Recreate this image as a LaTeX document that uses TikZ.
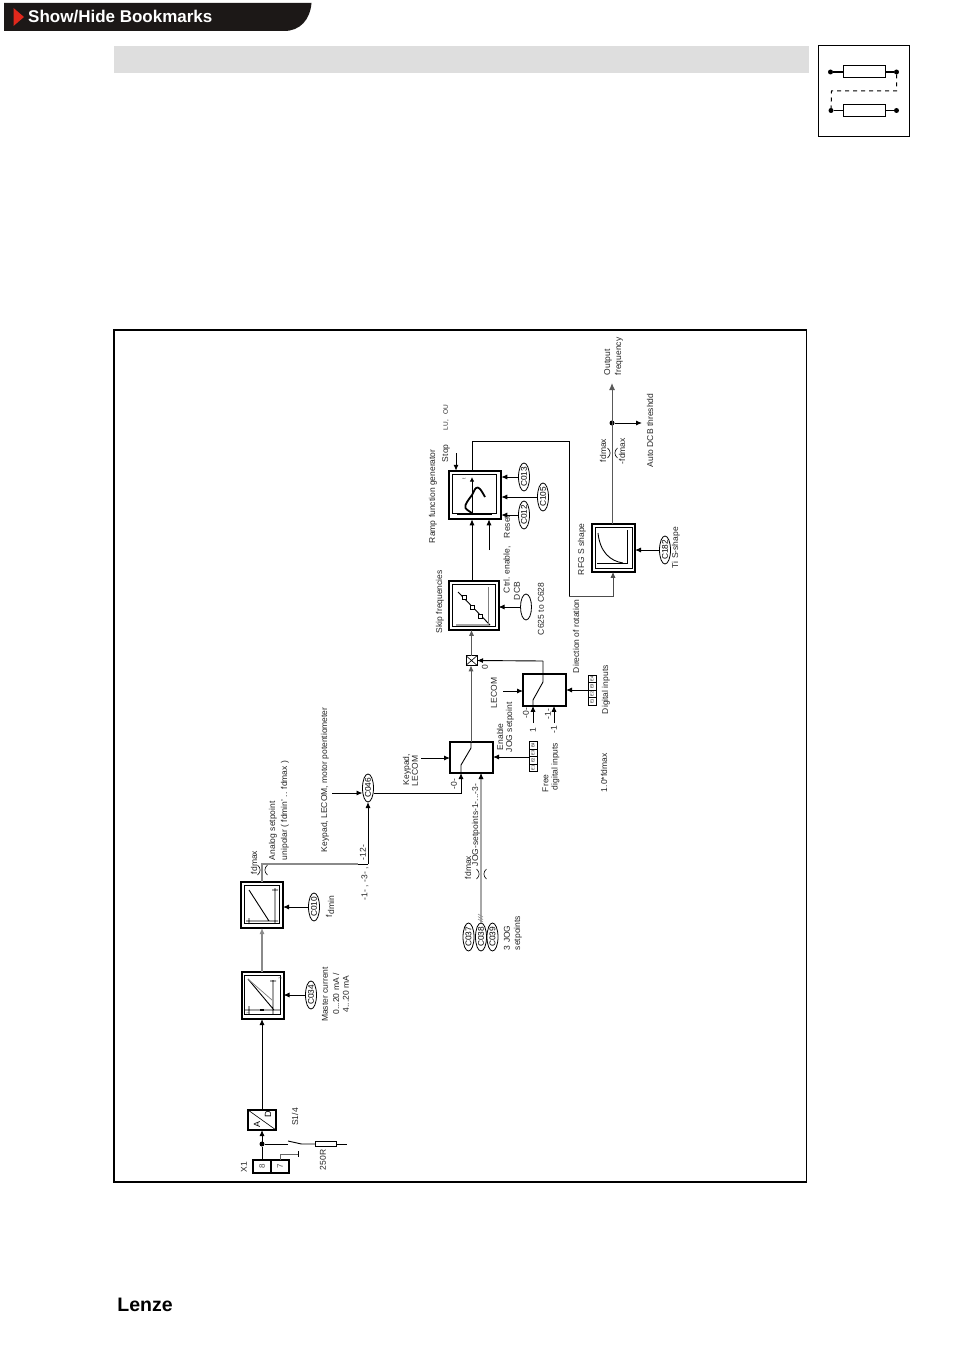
\documentclass[tikz,border=0pt]{standalone}
\usepackage{fontspec}
\setmainfont{Liberation Sans}
\usetikzlibrary{arrows.meta,shapes.geometric}
\definecolor{hdr}{HTML}{1C1817}
\definecolor{bandgr}{HTML}{DEDEDE}
\definecolor{redmk}{HTML}{E0281C}
\definecolor{linegr}{HTML}{8A8A8A}
\definecolor{jogline}{HTML}{A8A8A8}
\newcommand{\brk}[2]{%
 \draw[thin line] (#1-4.5,#2-5) .. controls (#1-1,#2-2) and (#1-1,#2+2) .. (#1-4.5,#2+5);
 \draw[thin line] (#1+5.5,#2-5) .. controls (#1+2,#2-2) and (#1+2,#2+2) .. (#1+5.5,#2+5);}
\tikzset{
 thin line/.style={line width=0.6pt,black},
 wire/.style={line width=0.9pt,black},
 gwire/.style={line width=1.1pt,linegr},
 arr/.style={wire,-{Latex[length=6pt,width=5pt]}},
 garr/.style={gwire,-{Latex[length=6pt,width=5pt]}},
 blockbox/.style={draw,line width=2pt,rectangle,inner sep=0,outer sep=0,fill=white},
 innerbox/.style={line width=0.8pt,black},
 swbox/.style={draw,line width=1.8pt,rectangle,inner sep=0,outer sep=0,fill=white},
 thinbox/.style={draw,line width=1pt,rectangle,inner sep=0,outer sep=0,fill=white},
 dotn/.style={circle,fill=black,inner sep=0,minimum size=5pt,outer sep=0},
 ecl/.style={draw,ellipse,rotate=90,minimum width=26pt,minimum height=11pt,inner sep=0,outer sep=0,line width=0.8pt,font=\fontsize{8.3}{8.3}\selectfont,fill=white},
 txt/.style={rotate=90,anchor=west,inner sep=0,outer sep=0,font=\fontsize{8.5}{8.5}\selectfont,text=black!85},
 ctr/.style={txt,anchor=center},
 tiny/.style={rotate=90,anchor=center,inner sep=0,font=\fontsize{4}{4}\selectfont,text=black!70},
 ins/.style={line width=0.9pt,black},
 strip/.style={draw,line width=0.8pt,rectangle,inner sep=0,outer sep=0,fill=white,rotate=90,minimum width=7.5pt,minimum height=8pt,font=\fontsize{4}{4}\selectfont},
}
\begin{document}
\begin{tikzpicture}[x=1pt,y=-1pt]
\useasboundingbox (0,0) rectangle (954,1351);
\fill[white] (0,0) rectangle (954,1351);
% header
\fill[hdr] (4,3) -- (311.5,3) .. controls (310,20) and (300,31) .. (284,31) -- (4,31) -- cycle;
\fill[redmk] (13.5,8) -- (24,17) -- (13.5,26) -- cycle;
\node[anchor=west,inner sep=0,text=white,font=\fontsize{17}{17}\selectfont\bfseries] (hdrtxt) at (28,16.5) {Show/Hide Bookmarks};
\fill[bandgr] (114,46) rectangle (809,73);
% icon
\draw[line width=1pt] (818.5,45.5) rectangle (909.5,136.5);
\node[thinbox,minimum width=42pt,minimum height=12pt] (ir1) at (864,72) {};
\node[thinbox,minimum width=42pt,minimum height=12pt] (ir2) at (864,110.5) {};
\node[dotn] (id1) at (830.5,72) {};
\node[dotn] (id2) at (896.5,72) {};
\node[dotn] (id3) at (831,110.5) {};
\node[dotn] (id4) at (896.5,110.5) {};
\draw[line width=1.5pt] (id1) -- (ir1) (ir1) -- (id2);
\draw[line width=1pt] (id3) -- (ir2) (ir2) -- (id4);
\draw[line width=1pt,dash pattern=on 4pt off 4pt] (id2) |- (831.5,91) -- (id3);
% frame
\draw[line width=1.5pt] (114,330) rectangle (806.5,1182);
% Lenze
\node[inner sep=0,font=\fontsize{19.5}{19.5}\selectfont\bfseries] (lenze) at (145,1304.5) {Lenze};

% terminals
\node[thinbox,line width=1.2pt,minimum width=18pt,minimum height=13pt] (t8) at (262,1166.5) {};
\node[thinbox,line width=1.2pt,minimum width=18pt,minimum height=13pt] (t7) at (280,1166.5) {};
\node[tiny,font=\fontsize{8}{8}\selectfont] (t8l) at (262,1166.5) {8};
\node[tiny,font=\fontsize{8}{8}\selectfont] (t7l) at (280,1166.5) {7};
\node[ctr] (x1l) at (244,1167) {X1};
% A/D
\node[thinbox,line width=1.3pt,minimum width=28pt,minimum height=20pt] (ad) at (262,1120) {};
\draw[thin line] (ad.north west) -- (ad.south east);
\node[tiny,font=\fontsize{9}{9}\selectfont,text=black] (adA) at (257,1124) {A};
\node[tiny,font=\fontsize{9}{9}\selectfont,text=black] (adD) at (268,1114) {D};
\node[dotn] (d1) at (262,1144) {};
\draw[wire] (t8.north) -- (d1);
\draw[arr] (d1) -- (ad.south);
% switch S1/4
\coordinate (swa) at (288,1144);
\coordinate (swb) at (301.5,1144);
\node[thinbox,line width=0.8pt,minimum width=21pt,minimum height=5pt] (r250) at (325.5,1144) {};
\coordinate (rend) at (347,1144);
\draw[wire] (d1) -- (swa);
\draw[wire] (288,1141) -- (swb) -- (r250.west);
\draw[wire] (r250.east) -- (rend);
\coordinate (gnd) at (298,1154);
\draw[line width=0.9pt,black!60] (t7.north) |- (gnd);
\draw[wire] (298,1151) -- (298,1157);
\node[ctr] (s14) at (295,1117) {S1/4};
\node[ctr] (r250l) at (323,1160) {250R};
% block 1
\node[blockbox,minimum width=42pt,minimum height=47pt] (b1) at (262.5,995.5) {};
\draw[innerbox] ([shift={(3,3)}]b1.north west) rectangle ([shift={(-3,-4.5)}]b1.south east);
\draw[ins] (244,1010) -- (280,1010) (249,1006) -- (249,1014) (273,980) -- (273,1014) (270,981) -- (276,981) (248,979) -- (274,1010);
\draw[line width=0.7pt,black!50] (248,979) -- (272,1000);
\draw[line width=1.4pt] (260,1010) -- (264,1010);
\node[tiny] (b1t1) at (280,978) {1};
\node[tiny] (b1t2) at (248,1013) {1};
\draw[arr] (ad.north) -- (b1.south -| ad);
% block 2
\node[blockbox,minimum width=42pt,minimum height=46pt] (b2) at (262,905) {};
\draw[innerbox] ([shift={(3,3)}]b2.north west) rectangle ([shift={(-4,-5)}]b2.south east);
\draw[ins] (249,890) -- (269,921) (246,921) -- (278,921) (249,918) -- (249,924) (275,888) -- (275,923) (272,890) -- (278,890);
\draw[garr] (b1.north -| b2) -- (b2.south);
% C034, C010
\node[ecl] (c034) at (311,995) {C034};
\draw[arr] (c034.north) -- (b1.east |- c034);
\node[ctr] (mc1) at (325,994.5) {Master current};
\node[ctr] (mc2) at (336,994) {0...20 mA /};
\node[ctr] (mc3) at (346,994) {4...20 mA};
\node[ecl] (c010) at (314,907) {C010};
\draw[arr] (c010.north) -- (b2.east |- c010);
\node[txt] (fdmin) at (330,917) {f\raisebox{-2pt}{dmin}};
% top analog path
\coordinate (jtop) at (262,864);
\coordinate (jmid) at (358,864);
\coordinate (jr) at (368,864);
\node[ecl] (c046) at (368,788) {C046};
\draw[gwire] (b2.north) -- (jtop) -- (jmid);
\draw[wire] (jmid) -- (jr);
\draw[arr] (jr) -- (c046.west);
\brk{262}{870}
\node[txt] (fdm1) at (254,874) {fdmax};
\node[txt] (as1) at (273,860) {Analog setpoint};
\node[txt] (as2) at (285,860) {unipolar ( fdmin' .. fdmax )};
\node[txt] (kp) at (325,852) {Keypad, LECOM, motor potentiometer};
\node[txt] (l13) at (365,900) {-1- , -3- ,};
\node[txt] (l12) at (363,860) {-12-};
\coordinate (kpin) at (332,793);
\draw[arr] (kpin) -- (c046.north |- kpin);
% switch 1
\node[swbox,minimum width=43pt,minimum height=31pt] (sw1) at (471.5,757.5) {};
\coordinate (c046out) at (461,793);
\draw[arr] (c046.south |- c046out) -- (c046out) -- (c046out |- sw1.south);
\draw[wire] (461,773) -- (461,765) -- (471,748) -- (471,742);
\node[thinbox,minimum width=11pt,minimum height=9.5pt] (cross) at (471.5,660.5) {};
\draw[thin line] (cross.north west) -- (cross.south east) (cross.north east) -- (cross.south west);
\draw[line width=1pt,black!65,-{Latex[length=6pt,width=5pt]}] (471,742) -- (cross.south -| 471,742);
\node[ctr] (kl1) at (407,769.5) {Keypad,};
\node[ctr] (kl2) at (415,771) {LECOM};
\coordinate (kl) at (421,758);
\draw[arr] (kl) -- (kl -| sw1.west);
\node[ctr] (l0a) at (454,784) {-0-};
\node[txt] (en1) at (500,750) {Enable};
\node[txt] (en2) at (510,752) {JOG setpoint};
\node[txt] (fr1) at (545.5,792) {Free};
\node[txt] (fr2) at (555.5,790) {digital inputs};
% strip 1
\node[strip] (e1) at (533,768) {E1};
\node[strip] (e2) at (533,760.5) {E2};
\node[strip] (e3) at (533,753) {E3};
\node[strip] (e4) at (533,745.5) {E4};
\draw[arr] (e2.north) ++(0,-3.5) -- (sw1.east |- 529,757);
% JOG
\node[ecl] (c037) at (468.5,937) {C037};
\node[ecl] (c038) at (481,937) {C038};
\node[ecl] (c039) at (492.5,937) {C039};
\coordinate (jogtop) at (481,773);
\draw[line width=1.5pt,jogline,-{Latex[length=6pt,width=5pt]}] (c038.east) -- (jogtop);
\draw[arr] (481,776) -- (jogtop);
\draw[line width=0.6pt,black!45] (478,914) -- (483,917) (478,916.5) -- (483,919.5) (478,919) -- (483,922);
\brk{481}{874}
\node[txt] (jogl) at (476,866) {JOG-setpoints-1-...-3-};
\node[txt] (fdm2) at (468,879) {fdmax};
\node[txt] (jg1) at (507,950) {3 JOG};
\node[txt] (jg2) at (518,950) {setpoints};
% switch 2
\node[swbox,minimum width=43pt,minimum height=31.5pt] (sw2) at (544.5,690) {};
\coordinate (s2a) at (533,723);
\coordinate (s2b) at (554,723);
\draw[arr] (s2a) -- (s2a |- sw2.south);
\draw[arr] (s2b) -- (s2b |- sw2.south);
\coordinate (s2top) at (543,661);
\draw[wire] (533,706) -- (533,700) -- (543,682) -- (s2top);
\draw[arr] (s2top) -- (cross.east);
\coordinate (lc) at (503,691);
\draw[arr] (lc) -- (lc -| sw2.west);
\node[txt] (lecom) at (494,708) {LECOM};
\node[ctr] (l0b) at (526,713) {-0-};
\node[ctr] (l1a) at (533,730) {1};
\node[ctr] (l1b) at (548,714) {-1-};
\node[ctr] (l1c) at (554,730) {-1};
\node[ctr] (l0c) at (485,667) {0};
% strip 2
\node[strip] (f1) at (592,701.5) {E1};
\node[strip] (f2) at (592,694) {E2};
\node[strip] (f3) at (592,686.5) {E3};
\node[strip] (f4) at (592,679) {E4};
\draw[arr] (f3.north) ++(0,3.5) -- (sw2.east |- 588,690);
\node[txt] (dgi) at (606,714) {Digital inputs};
\node[txt] (dor) at (576,673) {Direction of rotation};
\node[txt] (s10) at (604,792) {1.0*fdmax};
% skip
\node[blockbox,minimum width=50pt,minimum height=48.5pt] (skip) at (473.5,605.5) {};
\draw[innerbox] ([shift={(3.5,3.5)}]skip.north west) rectangle ([shift={(-3.5,-3.5)}]skip.south east);
\draw[ins] (458,592) -- (490,625) (456,625) -- (490,625);
\draw[line width=1pt,black!50] (488,587) -- (488,625);
\node[thinbox,line width=0.7pt,minimum width=4pt,minimum height=4pt] (sq1) at (464,597) {};
\node[thinbox,line width=0.7pt,minimum width=4pt,minimum height=4pt] (sq2) at (472,607) {};
\node[thinbox,line width=0.7pt,minimum width=4pt,minimum height=4pt] (sq3) at (480,616) {};
\draw[line width=1pt,black!65,-{Latex[length=6pt,width=5pt]}] (cross.north) -- (skip.south -| cross);
\node[txt] (skl) at (440,633) {Skip frequencies};
\node[ecl] (c625) at (526,607) {};
\draw[arr] (c625.north) -- (skip.east |- c625);
\node[txt] (ctl1) at (507,593) {Ctrl. enable,};
\node[txt] (ctl2) at (517,600) {DCB};
\node[txt] (c625l) at (541,635) {C625 to C628};
% ramp
\node[blockbox,minimum width=52.5pt,minimum height=48.5pt] (ramp) at (475,495) {};
\draw[innerbox] ([shift={(3.5,3.5)}]ramp.north west) rectangle ([shift={(-5,-6)}]ramp.south east);
\draw[ins] (457,514) -- (492,514);
\draw[wire,-{Latex[length=4.5pt,width=4.5pt]}] (472,515) -- (472,477);
\draw[line width=1.8pt,line join=round] plot[smooth,tension=0.6] coordinates {(472,513) (465.5,508) (467,502) (472,495) (476,488) (480,489) (485,497)};
\node[tiny,font=\fontsize{5}{5}\selectfont] (rt) at (464,479) {t};
\draw[arr] (skip.north -| 472,0) -- (ramp.south -| 472,0);
\coordinate (rin2) at (489,550);
\draw[arr] (rin2) -- (rin2 |- ramp.south);
\coordinate (stp) at (456,453);
\draw[arr] (stp) -- (stp |- ramp.north);
\node[txt] (stl) at (446,462) {Stop};
\node[txt] (rfl) at (433,543) {Ramp function generator};
\node[txt,font=\fontsize{6.5}{6.5}\selectfont] (lu) at (446,430) {LU,\ \ \ OU};
\node[ecl] (c013) at (524,477) {C013};
\node[ecl] (c105) at (543,497) {C105};
\node[ecl] (c012) at (524,515) {C012};
\draw[arr] (c013.north) -- (ramp.east |- c013);
\draw[arr] (c105.north) -- (ramp.east |- c105);
\draw[arr] (c012.north) -- (ramp.east |- c012);
\node[txt] (rst) at (507,538) {Reset};
% RFG
\node[blockbox,minimum width=43pt,minimum height=47.5pt] (rfg) at (613.5,548) {};
\draw[innerbox] ([shift={(3,3)}]rfg.north west) rectangle ([shift={(-3,-3)}]rfg.south east);
\draw[ins] (597,563) -- (628,563) (627,530) -- (627,564);
\draw[ins] (598,533) .. controls (600,552) and (610,561) .. (623,563);
\coordinate (rr1) at (569,441);
\coordinate (rr2) at (569,596);
\coordinate (rr3) at (613,596);
\draw[wire] (ramp.north -| 472,0) |- (rr1) -- (rr2);
\draw[wire,line width=0.9pt,black!70,-{Latex[length=6pt,width=5pt]}] (rr2) -- (rr3) -- (rr3 |- rfg.south);
\node[txt] (rfgl) at (582,575) {RFG S shape};
\node[ecl] (c182) at (665,550) {C182};
\draw[arr] (c182.north) -- (rfg.east |- c182);
\node[txt] (tis) at (676,568) {Ti S-shape};
% output
\coordinate (out) at (612,383);
\node[dotn] (d2) at (612,423) {};
\draw[line width=1pt,black!65,-{Latex[length=7pt,width=6pt]}] (rfg.north -| d2) -- (out);
\draw[arr] (d2) -- (642,423) coordinate (adb);
\brk{612}{453}
\node[txt] (fd3) at (603,462) {fdmax};
\node[txt] (fd4) at (622,464) {-fdmax};
\node[txt] (adbl) at (650,467) {Auto DCB threshdd};
\node[txt] (ou1) at (608,375) {Output};
\node[txt] (ou2) at (619,375) {frequency};
\end{tikzpicture}
\end{document}
